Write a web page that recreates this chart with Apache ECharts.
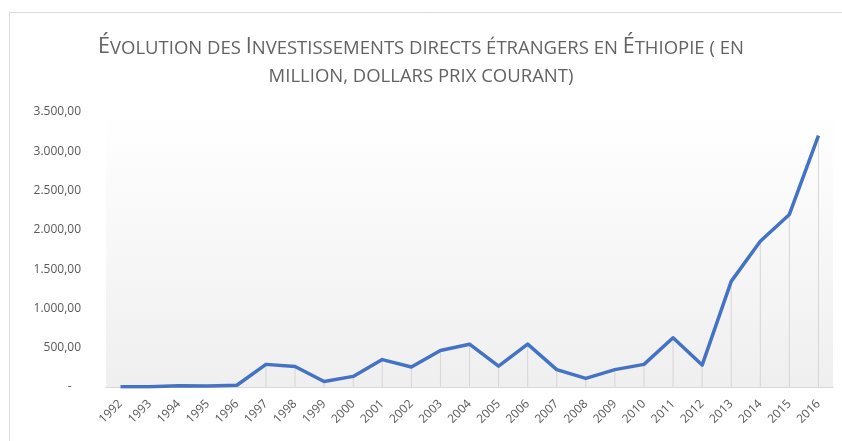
<!DOCTYPE html>
<html>
<head>
<meta charset="utf-8">
<script src="https://cdn.jsdelivr.net/npm/echarts@6/dist/echarts.min.js"></script>
<style>
  html, body { margin: 0; padding: 0; background: #fff; }
  #chart { width: 842px; height: 441px; }
</style>
</head>
<body>
<div id="chart"></div>
<script>
// années
const years = ['1992', '1993', '1994', '1995', '1996', '1997', '1998', '1999', '2000', '2001', '2002', '2003', '2004',
  '2005', '2006', '2007', '2008', '2009', '2010', '2011', '2012', '2013', '2014', '2015', '2016']
// IDE en millions de dollars
const ide = [2, 4, 17, 14, 22, 288, 261, 70, 135, 349, 255, 465, 545,
  265, 545, 222, 109, 221, 288, 627, 279, 1344, 1855, 2196, 3200]
const yMax = 3500
const yStep = 500

const titleText = 'Évolution des Investissements directs étrangers en Éthiopie ( en\nmillion, dollars prix courant)'

// petites capitales façon Excel : majuscules d'origine en {b|}, le reste en {s|}
function smallCaps(txt) {
  return txt.split('\n').map(function (line) {
    let out = ''
    let cur = null
    let buf = ''
    for (const ch of line) {
      const big = ch !== ch.toLowerCase()
      const k = big ? 'b' : 's'
      if (k !== cur && buf) {
        out += '{' + cur + '|' + buf + '}'
        buf = ''
      }
      cur = k
      buf += ch.toUpperCase()
    }
    if (buf) out += '{' + cur + '|' + buf + '}'
    return out
  }).join('\n')
}

function formatFr(v) {
  if (v === 0) return '-   '
  const parts = v.toFixed(2).split('.')
  return parts[0].replace(/\B(?=(\d{3})+(?!\d))/g, '.') + ',' + parts[1]
}

const chart = echarts.init(document.getElementById('chart'))
chart.setOption({
  backgroundColor: '#fff',
  animation: false,
  graphic: [{
    type: 'rect',
    left: 7,
    top: 10,
    shape: { width: 900, height: 500 },
    style: { fill: 'none', stroke: '#d9d9d9', lineWidth: 1 },
    silent: true
  }],
  title: {
    text: smallCaps(titleText),
    left: 'center',
    top: 25,
    textStyle: {
      fontWeight: 'normal',
      fontFamily: 'Open Sans',
      fontSize: 18.5,
      lineHeight: 28,
      color: '#636363',
      rich: {
        b: { fontFamily: 'Open Sans', fontSize: 21.5, lineHeight: 28, color: '#636363', verticalAlign: 'bottom' },
        s: { fontFamily: 'Open Sans', fontSize: 18.5, lineHeight: 28, color: '#636363', verticalAlign: 'bottom' }
      }
    }
  },
  grid: {
    left: 106,
    right: 9,
    top: 112,
    bottom: 54,
    show: true,
    borderWidth: 0,
    backgroundColor: {
      type: 'linear', x: 0, y: 0, x2: 0, y2: 1,
      colorStops: [
        { offset: 0, color: '#ffffff' },
        { offset: 1, color: '#efefef' }
      ]
    }
  },
  xAxis: {
    type: 'category',
    data: years,
    boundaryGap: true,
    axisLine: { lineStyle: { color: '#d9d9d9', width: 1 } },
    axisTick: { show: false },
    axisLabel: {
      rotate: 45,
      interval: 0,
      margin: 15,
      fontFamily: 'Open Sans',
      fontSize: 12,
      color: '#595959'
    }
  },
  yAxis: {
    type: 'value',
    min: 0,
    max: yMax,
    interval: yStep,
    axisLine: { show: false },
    axisTick: { show: false },
    splitLine: { show: false },
    axisLabel: {
      margin: 25,
      fontFamily: 'Open Sans',
      fontSize: 12,
      color: '#595959',
      formatter: formatFr
    }
  },
  series: [{
    // lignes de rappel verticales
    type: 'bar',
    data: ide,
    barWidth: 1,
    barGap: '-100%',
    silent: true,
    itemStyle: { color: '#d6d6d6' },
    z: 1
  }, {
    type: 'line',
    data: ide,
    showSymbol: false,
    symbol: 'none',
    lineStyle: { color: '#4472c4', width: 3.5, join: 'round' },
    z: 3
  }]
})
</script>
</body>
</html>
